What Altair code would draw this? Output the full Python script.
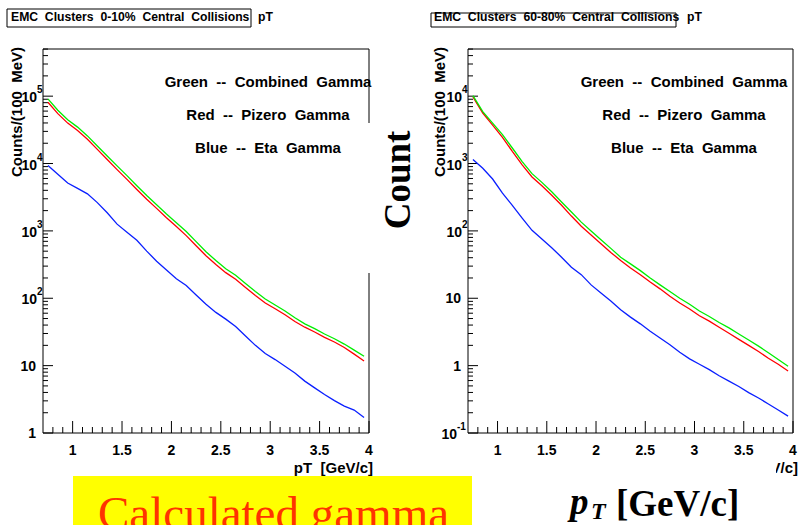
import altair as alt
import pandas as pd

# ---------------- data ----------------
pt = [0.75, 0.85, 0.95, 1.05, 1.15, 1.25, 1.35, 1.45, 1.55, 1.65, 1.75,
      1.85, 1.95, 2.05, 2.15, 2.25, 2.35, 2.45, 2.55, 2.65, 2.75, 2.85,
      2.95, 3.05, 3.15, 3.25, 3.35, 3.45, 3.55, 3.65, 3.75, 3.85, 3.95]

# 0-10% central
c_green = [91200, 61700, 44700, 34700, 25700, 18200, 12900, 9230, 6610, 4680, 3350,
           2450, 1780, 1320, 977, 692, 490, 363, 275, 219, 166, 126,
           97.7, 79.4, 64.6, 51.3, 41.7, 35.5, 29.5, 25.1, 20.9, 17.0, 13.8]
c_red = [81300, 55000, 39800, 30900, 22900, 16200, 11500, 8130, 5820, 4120, 2950,
         2160, 1570, 1160, 851, 603, 427, 316, 240, 191, 145, 110,
         85.1, 70.0, 56.9, 45.2, 37.2, 31.6, 26.3, 22.4, 18.6, 14.8, 11.7]
c_blue = [9330, 6920, 5130, 4270, 3550, 2630, 1860, 1260, 955, 724, 501,
          355, 263, 195, 155, 112, 81.3, 61.7, 49.0, 38.0, 27.5, 20.0,
          15.1, 12.3, 9.77, 7.76, 5.89, 4.68, 3.72, 3.02, 2.51, 2.19, 1.70]

# 60-80% central
p_green = [10200, 5890, 3980, 2690, 1700, 1070, 708, 525, 380, 269, 191,
           135, 100, 74.1, 55.0, 40.7, 32.4, 25.7, 20.0, 15.8, 12.6, 10.0,
           8.13, 6.46, 5.37, 4.37, 3.63, 2.95, 2.40, 1.95, 1.55, 1.23, 0.977]
p_red = [9770, 5620, 3720, 2450, 1510, 955, 631, 468, 339, 240, 166,
         117, 87.1, 64.6, 47.9, 36.3, 28.2, 22.4, 17.4, 13.8, 10.7, 8.51,
         6.92, 5.50, 4.57, 3.72, 3.02, 2.45, 2.00, 1.62, 1.29, 1.05, 0.832]
p_blue = [1150, 851, 589, 363, 240, 155, 102, 75.9, 56.2, 40.7, 28.8,
          22.4, 15.8, 12.0, 9.12, 6.76, 5.25, 4.17, 3.24, 2.57, 2.04, 1.58,
          1.26, 1.05, 0.871, 0.708, 0.589, 0.490, 0.398, 0.331, 0.269, 0.219, 0.178]

x_major = [1, 1.5, 2, 2.5, 3, 3.5, 4]
x_major_labels = ["1", "1.5", "2", "2.5", "3", "3.5", "4"]
x_minor = [round(0.7 + 0.1 * i, 1) for i in range(1, 33) if (i + 7) % 5 != 0]

left_y_vals = [1, 10, 100, 1000, 10000, 100000]
left_y_base = ["1", "10", "10", "10", "10", "10"]
left_y_exp = ["", "", "2", "3", "4", "5"]
right_y_vals = [0.1, 1, 10, 100, 1000, 10000]
right_y_base = ["10", "1", "10", "10", "10", "10"]
right_y_exp = ["-1", "", "", "2", "3", "4"]

legend_lines = ["Green\u00a0\u00a0--\u00a0\u00a0Combined\u00a0\u00a0Gamma",
                "Red\u00a0\u00a0--\u00a0\u00a0Pizero\u00a0\u00a0Gamma",
                "Blue\u00a0\u00a0--\u00a0\u00a0Eta\u00a0\u00a0Gamma"]
colors = {"green": "#00ee00", "red": "#ff0000", "blue": "#0a1fff"}

SANS = "Liberation Sans"
SERIF = "Liberation Serif"
dummy = pd.DataFrame({"a": [0]})
TOP, BOTTOM = 49, 433


def txt(s, x, y, size, align="left", angle=0, font=SANS, weight="bold",
        color="black", baseline="alphabetic", style="normal"):
    return alt.Chart(dummy).mark_text(
        fontSize=size, align=align, angle=angle, font=font, fontWeight=weight,
        color=color, baseline=baseline, fontStyle=style
    ).encode(x=alt.value(x), y=alt.value(y), text=alt.value(s))


def box(x, x2, y, y2, fill=None, stroke=None):
    if fill is not None:
        m = alt.Chart(dummy).mark_rect(color=fill)
    else:
        m = alt.Chart(dummy).mark_rect(filled=False, stroke=stroke, strokeWidth=1)
    return m.encode(x=alt.value(x), x2=alt.value(x2), y=alt.value(y), y2=alt.value(y2))


def minor_list(vals, ymax):
    out = []
    for d in vals:
        for m in range(2, 10):
            v = m * d
            if v <= ymax * 1.001:
                out.append(v)
    return out


def panel(x0, x1, ymin, ymax, green, red, blue, ybase, yexp, yvals,
          title, box_x, box_y, title_x, pt_x, ytitle_x, xtitle_x, legend_cx):
    xs = alt.Scale(domain=[0.7, 4.0], range=[x0, x1], nice=False, zero=False)
    ys = alt.Scale(type="log", domain=[ymin, ymax], range=[BOTTOM, TOP], nice=False)
    layers = []
    # frame
    layers.append(box(x0, x1, TOP, BOTTOM, stroke="black"))
    # y ticks
    ymaj = pd.DataFrame({"v": yvals})
    ymin_df = pd.DataFrame({"v": minor_list(yvals, ymax)})
    layers.append(alt.Chart(ymaj).mark_rule(color="black", strokeWidth=1).encode(
        y=alt.Y("v:Q", scale=ys, axis=None), x=alt.value(x0), x2=alt.value(x0 + 10)))
    layers.append(alt.Chart(ymin_df).mark_rule(color="black", strokeWidth=1).encode(
        y=alt.Y("v:Q", scale=ys, axis=None), x=alt.value(x0), x2=alt.value(x0 + 5)))
    # x ticks
    xmaj = pd.DataFrame({"v": x_major, "lab": x_major_labels})
    xmin_df = pd.DataFrame({"v": x_minor})
    layers.append(alt.Chart(xmaj).mark_rule(color="black", strokeWidth=1).encode(
        x=alt.X("v:Q", scale=xs, axis=None), y=alt.value(BOTTOM), y2=alt.value(BOTTOM - 12)))
    layers.append(alt.Chart(xmin_df).mark_rule(color="black", strokeWidth=1).encode(
        x=alt.X("v:Q", scale=xs, axis=None), y=alt.value(BOTTOM), y2=alt.value(BOTTOM - 6)))
    # x labels
    layers.append(alt.Chart(xmaj).mark_text(
        fontSize=14, font=SANS, fontWeight="bold", align="center", baseline="alphabetic"
    ).encode(x=alt.X("v:Q", scale=xs, axis=None), y=alt.value(455), text="lab:N"))
    # y labels
    for v, b, e in zip(yvals, ybase, yexp):
        d = pd.DataFrame({"v": [v], "b": [b], "e": [e]})
        if e == "":
            layers.append(alt.Chart(d).mark_text(
                fontSize=14, font=SANS, fontWeight="bold", align="right",
                baseline="middle", dy=1
            ).encode(y=alt.Y("v:Q", scale=ys, axis=None), x=alt.value(x0 - 7), text="b:N"))
        else:
            bx = x0 - 6 - 5 * (len(e) - 1)
            layers.append(alt.Chart(d).mark_text(
                fontSize=14, font=SANS, fontWeight="bold", align="right",
                baseline="middle", dy=2
            ).encode(y=alt.Y("v:Q", scale=ys, axis=None), x=alt.value(bx), text="b:N"))
            layers.append(alt.Chart(d).mark_text(
                fontSize=10, font=SANS, fontWeight="bold", align="left",
                baseline="middle", dy=-6
            ).encode(y=alt.Y("v:Q", scale=ys, axis=None), x=alt.value(bx), text="e:N"))
    # curves
    for name, vals in [("red", red), ("green", green), ("blue", blue)]:
        d = pd.DataFrame({"pt": pt, "v": vals})
        layers.append(alt.Chart(d).mark_line(color=colors[name], strokeWidth=1.3).encode(
            x=alt.X("pt:Q", scale=xs, axis=None), y=alt.Y("v:Q", scale=ys, axis=None)))
    # legend texts
    for i, s in enumerate(legend_lines):
        layers.append(txt(s, legend_cx, [82, 115, 148][i], 15, align="center", baseline="middle"))
    # title box
    layers.append(box(box_x[0], box_x[1], box_y[0], box_y[1], stroke="black"))
    layers.append(txt(title, title_x, 21, 12.2))
    layers.append(txt("pT", pt_x, 21, 12.2))
    # axis titles
    layers.append(txt("Counts/(100\u00a0\u00a0MeV)", ytitle_x, 47, 15, align="right", angle=270))
    layers.append(txt("pT\u00a0\u00a0[GeV/c]", xtitle_x, 473, 15, align="right"))
    return alt.layer(*layers)


left = panel(43, 369, 1, 501187, c_green, c_red, c_blue, left_y_base, left_y_exp, left_y_vals,
             "EMC\u00a0\u00a0Clusters\u00a0\u00a00-10%\u00a0\u00a0Central\u00a0\u00a0Collisions",
             (7, 251), (9, 27), 11, 258, 22, 373, 268)
right = panel(468, 793, 0.1, 50119, p_green, p_red, p_blue, right_y_base, right_y_exp, right_y_vals,
              "EMC\u00a0\u00a0Clusters\u00a0\u00a060-80%\u00a0\u00a0Central\u00a0\u00a0Collisions",
              (431, 676), (13, 27), 434, 687, 445, 798, 684)

overlay = alt.layer(
    box(362, 430, 123, 273, fill="white"),
    txt("Count", 410, 180, 37, align="center", angle=270, font=SERIF),
    box(73, 472, 476, 530, fill="#ffff00"),
    txt("Calculated gamma", 98, 529, 47, font=SERIF, weight="normal", color="#ff3300"),
    box(480, 776, 459, 530, fill="white"),
    txt("p", 570, 514, 37, font=SERIF, style="italic"),
    txt("T", 591, 519, 24, font=SERIF, style="italic"),
    txt("[GeV/c]", 616, 516, 37, font=SERIF),
)

chart = alt.layer(left, right, overlay).resolve_scale(
    x="independent", y="independent"
).properties(
    width=798, height=525, padding=0,
    autosize=alt.AutoSizeParams(type="none"),
    background="white",
).configure_view(strokeWidth=0)

chart.save("out.html", embed_options={"renderer": "svg", "actions": False})
